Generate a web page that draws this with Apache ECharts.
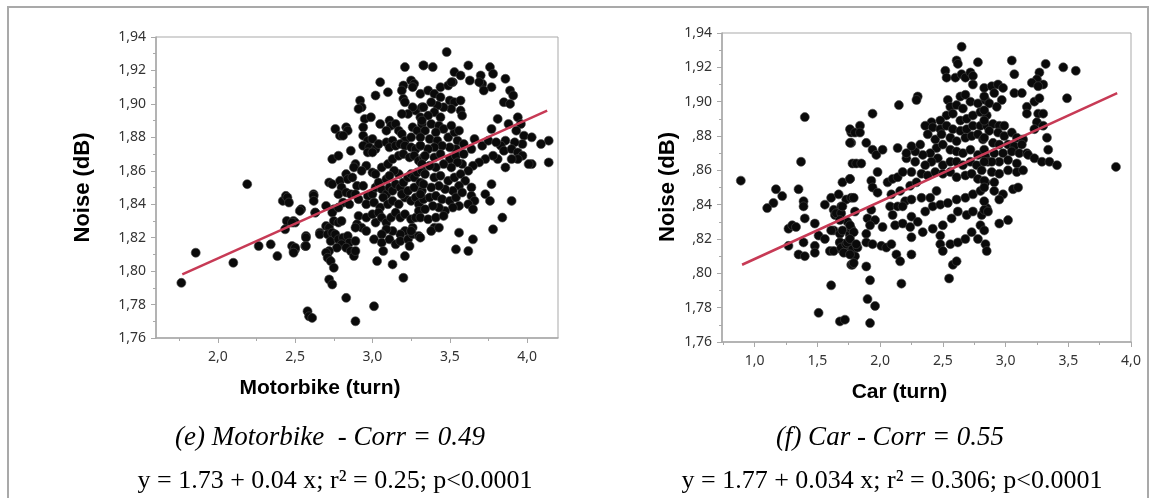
<!DOCTYPE html>
<html>
<head>
<meta charset="utf-8">
<script src="https://cdn.jsdelivr.net/npm/echarts@6/dist/echarts.min.js"></script>
<style>html,body{margin:0;padding:0;background:#fff}#c{width:1155px;height:498px}</style>
</head>
<body>
<div id="c"></div>
<script>
// ---------- DATA ----------
const motorbikeXTicks = [2.0, 2.5, 3.0, 3.5, 4.0];
const motorbikeXMinor = [1.75, 2.25, 2.75, 3.25, 3.75];
const carXTicks = [1.0, 1.5, 2.0, 2.5, 3.0, 3.5, 4.0];
const carXMinor = [0.75, 1.25, 1.75, 2.25, 2.75, 3.25, 3.75];

const motorbikePoints = [
[2.19,1.852],[1.857,1.811],[1.764,1.793],[2.10,1.805],[2.264,1.815],[2.342,1.816],[2.385,1.809],[2.42,1.842],[2.44,1.845],[2.446,1.830],[2.489,1.830],[2.435,1.825],[2.48,1.815],[2.50,1.813],[2.49,1.812],[2.539,1.837],[2.57,1.821],[2.565,1.815],[2.619,1.846],[2.63,1.835],[2.66,1.823],
[3.21,1.922],[3.33,1.923],[3.05,1.913],[3.10,1.907],[3.02,1.905],[3.20,1.911],[3.19,1.908],[3.25,1.914],[3.27,1.912],[3.26,1.910],[3.20,1.903],[3.21,1.901],[2.92,1.902],[2.93,1.898],[2.91,1.897],[2.95,1.891],[2.99,1.892],[2.76,1.885],[2.83,1.886],[2.84,1.884],[2.79,1.881],[2.81,1.881],[2.94,1.886],[3.05,1.888],[3.11,1.890],[3.12,1.887],[3.09,1.884],[3.15,1.888],[3.17,1.884],[3.19,1.882],[3.21,1.878],[3.25,1.880],[3.26,1.886],[3.29,1.884],[3.32,1.888],[3.28,1.896],[3.26,1.898],[3.32,1.898],[3.31,1.892],[3.23,1.894],[3.19,1.894],
[2.94,1.881],[2.97,1.878],[3.00,1.879],[2.94,1.875],[2.98,1.874],[3.02,1.873],[2.97,1.871],[3.00,1.871],[3.04,1.876],[3.09,1.877],[3.13,1.878],[3.11,1.874],[3.15,1.875],[3.18,1.876],[3.21,1.875],[3.25,1.874],[3.28,1.873],[3.31,1.875],[2.86,1.872],[2.74,1.867],[2.78,1.869],[2.89,1.864],[2.88,1.862],[2.96,1.863],[2.93,1.860],[3.00,1.859],[3.02,1.858],[3.06,1.862],[3.10,1.864],[3.13,1.867],[3.17,1.869],[3.20,1.870],[3.24,1.868],[3.27,1.869],[3.30,1.866],[3.33,1.868],
[2.72,1.853],[2.74,1.852],[2.79,1.854],[2.83,1.858],[2.80,1.850],[2.84,1.855],[2.87,1.856],[2.90,1.851],[2.94,1.851],[2.78,1.846],[2.83,1.847],[2.86,1.846],[2.89,1.846],[2.91,1.843],[2.97,1.845],[3.00,1.846],[3.02,1.850],[3.04,1.853],[3.06,1.849],[3.09,1.846],[3.11,1.850],[3.13,1.848],[3.15,1.852],[3.18,1.850],[3.20,1.853],[3.23,1.856],[3.25,1.858],[3.27,1.856],[3.29,1.859],[3.32,1.860],[3.17,1.858],[3.14,1.860],[3.09,1.855],[3.11,1.857],
[2.45,1.844],[2.46,1.841],[2.53,1.836],[2.62,1.845],[2.62,1.842],[2.70,1.839],[2.75,1.837],[2.74,1.835],[2.81,1.841],[2.85,1.840],[2.63,1.835],[2.78,1.838],[2.96,1.840],[3.01,1.841],[3.05,1.838],[3.07,1.844],[3.10,1.840],[3.13,1.842],[3.17,1.840],[3.21,1.844],[3.25,1.842],[3.28,1.844],[3.30,1.840],[3.33,1.843],[3.19,1.846],[3.23,1.848],[3.27,1.850],[3.31,1.853],[3.32,1.848],
[2.50,1.829],[2.48,1.829],[2.57,1.820],[2.50,1.814],[2.49,1.811],[2.57,1.815],[2.66,1.822],[2.70,1.827],[2.72,1.826],[2.75,1.830],[2.78,1.829],[2.80,1.830],[2.71,1.822],[2.74,1.823],[2.73,1.818],[2.76,1.822],[2.78,1.819],[2.81,1.820],[2.84,1.821],[2.85,1.817],[2.89,1.818],[2.80,1.816],[2.77,1.814],[2.83,1.814],[2.86,1.812],[2.88,1.809],[2.89,1.812],[2.72,1.812],[2.70,1.811],[2.71,1.808],[2.73,1.806],[2.75,1.802],
[2.91,1.833],[2.90,1.828],[2.93,1.826],[2.89,1.826],[2.96,1.824],[2.96,1.832],[3.00,1.834],[3.02,1.829],[3.04,1.835],[3.06,1.832],[3.09,1.829],[3.12,1.832],[3.15,1.835],[3.18,1.832],[3.21,1.834],[3.25,1.831],[3.28,1.832],[3.30,1.836],[3.26,1.826],[3.21,1.824],[3.18,1.822],[3.13,1.824],[3.09,1.825],[3.06,1.822],[3.01,1.819],[3.06,1.817],[3.11,1.819],[3.15,1.816],[3.18,1.818],[3.23,1.819],[3.26,1.822],[3.30,1.821],[3.07,1.812],[3.03,1.806],[3.13,1.804],[3.21,1.809],[3.20,1.796],[2.72,1.795],[2.74,1.792],[2.83,1.784],[3.01,1.779],[2.58,1.776],[2.59,1.773],[2.61,1.772],[2.89,1.770],[3.25,1.824],[3.24,1.815],
[3.48,1.931],[3.33,1.923],[3.39,1.922],[3.53,1.919],[3.57,1.917],[3.52,1.913],[3.63,1.914],[3.62,1.923],[3.70,1.917],[3.71,1.912],[3.69,1.913],[3.76,1.922],[3.78,1.918],[3.77,1.910],[3.72,1.908],[3.86,1.915],[3.89,1.908],[3.91,1.905],[3.85,1.901],[3.89,1.900],
[3.31,1.906],[3.36,1.908],[3.40,1.906],[3.44,1.910],[3.49,1.911],[3.51,1.913],[3.44,1.904],[3.50,1.902],[3.53,1.901],[3.57,1.902],[3.57,1.896],[3.58,1.893],[3.51,1.897],[3.46,1.898],[3.42,1.899],[3.38,1.901],[3.33,1.898],[3.40,1.895],[3.44,1.892],[3.36,1.893],[3.32,1.890],[3.38,1.888],[3.43,1.887],[3.46,1.885],[3.41,1.883],[3.34,1.884],[3.31,1.880],[3.37,1.879],[3.42,1.878],[3.49,1.880],[3.53,1.883],[3.56,1.884],[3.51,1.887],[3.55,1.878],[3.59,1.876],[3.54,1.873],[3.50,1.874],[3.45,1.875],[3.40,1.874],[3.36,1.873],[3.31,1.875],[3.34,1.869],[3.40,1.868],[3.44,1.870],[3.50,1.867],[3.54,1.869],[3.59,1.870],[3.64,1.873],[3.66,1.879],[3.71,1.875],[3.75,1.878],[3.77,1.885],[3.81,1.891],[3.88,1.888],[3.94,1.892],[3.96,1.888],[3.93,1.884],[3.98,1.881],[4.03,1.880],[3.97,1.876],[3.92,1.877],[3.86,1.878],[3.83,1.875],[3.80,1.877],[3.85,1.872],[3.90,1.873],[3.94,1.871],[3.97,1.869],[4.03,1.864],[4.01,1.864],[4.14,1.878],[4.09,1.876],[4.14,1.865],[3.94,1.867],[3.90,1.867],[3.86,1.862],[3.81,1.867],[3.78,1.869],[3.73,1.867],[3.69,1.865],[3.65,1.863],[3.62,1.860],[3.58,1.864],[3.55,1.865],[3.51,1.862],[3.46,1.864],[3.41,1.862],[3.37,1.863],[3.32,1.864],[3.34,1.858],[3.40,1.856],[3.44,1.857],[3.49,1.854],[3.53,1.856],[3.57,1.858],[3.60,1.854],[3.64,1.850],[3.56,1.851],[3.52,1.848],[3.47,1.849],[3.43,1.851],[3.38,1.850],[3.33,1.852],[3.31,1.846],[3.37,1.844],[3.41,1.845],[3.45,1.843],[3.50,1.842],[3.54,1.844],[3.58,1.847],[3.64,1.845],[3.66,1.842],[3.62,1.840],[3.56,1.839],[3.52,1.838],[3.47,1.836],[3.43,1.838],[3.39,1.839],[3.34,1.837],[3.31,1.832],[3.36,1.831],[3.41,1.832],[3.46,1.833],[3.40,1.826],[3.38,1.824],[3.43,1.826],[3.31,1.820],[3.77,1.852],[3.73,1.846],[3.76,1.842],[3.65,1.837],[3.90,1.842],[3.84,1.832],[3.78,1.825],[3.56,1.823],[3.54,1.813],[3.62,1.812],[3.65,1.819]
];

const carPoints = [
[0.89,1.854],[1.40,1.891],[1.37,1.865],[1.17,1.849],[1.22,1.845],[1.15,1.841],[1.10,1.838],[1.35,1.849],[1.39,1.842],[1.39,1.839],[1.40,1.832],[1.27,1.826],[1.30,1.828],[1.33,1.827],[1.27,1.816],[1.35,1.811],[1.40,1.810],[1.39,1.818],[1.48,1.829],[1.51,1.822],[1.48,1.816],[1.48,1.812],[1.56,1.820],[1.56,1.840],[1.61,1.844],[1.67,1.846],[1.63,1.837],[1.64,1.834],[1.69,1.839],[1.70,1.853],[1.76,1.855],[1.73,1.843],[1.77,1.844],[1.63,1.825],[1.68,1.823],[1.74,1.830],[1.76,1.822],[1.68,1.818],[1.69,1.814],[1.73,1.816],[1.60,1.813],[1.63,1.813],[1.77,1.811],[1.77,1.805],[1.61,1.793],[1.51,1.777],[1.68,1.772],[1.72,1.773],[1.77,1.882],[1.77,1.876],[1.78,1.864],[1.80,1.836],[1.80,1.816],
[1.65,1.835],[1.61,1.825],[1.69,1.835],[1.70,1.839],[1.68,1.831],[1.70,1.825],[1.68,1.818],[1.69,1.815],[1.71,1.812],[1.73,1.817],[1.76,1.823],[1.77,1.826],[1.74,1.818],[1.78,1.814],[1.80,1.810],[1.82,1.815],[1.78,1.805],
[2.65,1.932],[2.61,1.924],[2.62,1.922],[2.78,1.923],[2.52,1.918],[2.53,1.914],[2.60,1.914],[2.65,1.916],[2.68,1.914],[2.72,1.917],[2.74,1.915],[2.74,1.910],[2.30,1.903],[2.29,1.901],[2.15,1.898],[1.94,1.893],
[2.54,1.901],[2.64,1.903],[2.68,1.904],[2.56,1.897],[2.61,1.898],[2.66,1.896],[2.72,1.900],[2.78,1.899],[2.84,1.901],[2.53,1.892],[2.58,1.893],[2.64,1.889],[2.69,1.890],[2.74,1.892],[2.80,1.894],[2.85,1.892],[2.48,1.889],[2.41,1.888],[2.36,1.886],[2.42,1.885],[2.48,1.884],[2.53,1.886],[2.58,1.884],[2.64,1.883],[2.69,1.884],[2.74,1.886],[2.80,1.886],[2.85,1.886],[2.38,1.881],[2.44,1.878],[2.49,1.881],[2.56,1.879],[2.61,1.877],[2.68,1.879],[2.73,1.880],[2.78,1.881],[2.82,1.878],[2.45,1.873],[2.40,1.870],[2.34,1.869],[2.28,1.871],[2.25,1.874],[2.32,1.875],[2.50,1.875],[2.56,1.872],[2.61,1.871],[2.66,1.870],[2.72,1.872],[2.78,1.869],[2.84,1.868],[2.46,1.867],[2.41,1.865],[2.36,1.863],[2.50,1.863],[2.56,1.865],[2.61,1.865],[2.66,1.863],[2.72,1.865],[2.77,1.863],[2.81,1.860],[2.86,1.865],[2.28,1.865],[2.21,1.867],[2.25,1.859],[2.33,1.858],[2.38,1.857],[2.44,1.859],[2.50,1.858],[2.56,1.859],[2.61,1.856],[2.68,1.857],[2.73,1.858],[2.78,1.855],[2.84,1.853],
[1.76,1.884],[1.80,1.882],[1.84,1.886],[1.84,1.882],[1.76,1.876],[1.89,1.876],[1.94,1.872],[1.97,1.869],[2.02,1.872],[2.14,1.873],[2.21,1.870],[1.81,1.864],[1.85,1.864],[1.76,1.855],[1.79,1.844],[1.98,1.859],[1.93,1.854],[1.94,1.850],[1.98,1.847],[2.06,1.853],[2.10,1.855],[2.14,1.856],[2.18,1.859],[2.24,1.851],[2.29,1.853],[2.16,1.848],[2.09,1.846],[2.20,1.842],[2.25,1.843],[2.33,1.844],[2.40,1.844],[2.45,1.848],[2.08,1.839],[2.10,1.834],[2.14,1.839],[2.18,1.839],[1.93,1.837],[1.90,1.832],[1.96,1.831],[1.92,1.828],[2.02,1.827],[2.12,1.828],[2.18,1.829],[2.25,1.833],[2.30,1.830],[2.36,1.836],[2.42,1.839],[2.48,1.840],[2.54,1.841],[2.61,1.843],[2.68,1.844],[2.74,1.846],[2.80,1.848],[1.76,1.828],[1.79,1.824],[1.76,1.820],[1.81,1.817],[1.76,1.811],[1.79,1.806],[1.89,1.823],[1.89,1.818],[1.94,1.817],[2.01,1.816],[2.05,1.815],[2.09,1.817],[2.13,1.811],[2.16,1.807],[2.25,1.821],[2.24,1.827],[2.34,1.824],[2.42,1.826],[2.48,1.822],[2.50,1.828],[2.57,1.832],[2.62,1.836],[2.69,1.834],[2.74,1.836],[2.81,1.834],[2.85,1.838],[2.48,1.817],[2.50,1.813],[2.56,1.817],[2.62,1.818],[2.68,1.820],[2.73,1.824],[2.78,1.820],[2.84,1.817],[2.80,1.828],[2.25,1.811],[1.89,1.804],[1.92,1.796],[1.90,1.785],[1.96,1.781],[1.92,1.771],[2.17,1.794],[2.55,1.797],[2.58,1.805],[2.61,1.807],
[3.05,1.924],[3.32,1.922],[3.46,1.920],[3.56,1.918],[3.07,1.916],[3.27,1.917],[3.25,1.913],[3.30,1.910],[3.21,1.911],[3.26,1.909],[3.49,1.902],[3.88,1.862],
[2.83,1.908],[2.89,1.909],[2.94,1.910],[2.98,1.908],[2.91,1.905],[2.83,1.903],[2.97,1.901],[2.87,1.899],[2.93,1.897],[2.83,1.895],[3.07,1.905],[3.13,1.905],[3.17,1.897],[3.17,1.893],[3.23,1.900],[3.27,1.902],[3.26,1.893],[3.30,1.893],[3.25,1.888],[3.30,1.886],[3.23,1.884],[2.83,1.889],[2.90,1.887],[2.95,1.886],[2.99,1.886],[2.87,1.883],[2.94,1.882],[2.83,1.879],[2.99,1.880],[3.05,1.882],[3.09,1.879],[3.14,1.878],[2.90,1.876],[2.95,1.875],[3.02,1.875],[3.07,1.874],[3.13,1.875],[2.83,1.872],[2.91,1.870],[2.98,1.870],[3.05,1.871],[3.11,1.870],[3.17,1.870],[3.18,1.869],[3.23,1.867],[3.29,1.865],[3.35,1.865],[3.41,1.863],[3.34,1.872],[3.33,1.879],[2.95,1.865],[2.89,1.865],[3.02,1.866],[3.09,1.864],[2.83,1.865],[2.89,1.859],[2.95,1.858],[3.02,1.860],[3.09,1.859],[3.14,1.860],[2.83,1.854],[2.91,1.853],[2.83,1.850],[2.91,1.848],[2.98,1.846],[2.95,1.843],[3.06,1.849],[3.10,1.850],[2.83,1.842],[2.83,1.837],[2.86,1.836],[2.95,1.829],[3.02,1.831],[2.83,1.825],[2.85,1.813]
];

// fitted regression lines (end points)
const motorbikeFit = [[1.77, 1.798], [4.13, 1.896]];
const carFit = [[0.90, 1.805], [3.89, 1.905]];

const captions = [
  '(e) Motorbike  - Corr = 0.49',
  'y = 1.73 + 0.04 x; r\u00B2 = 0.25; p<0.0001',
  '(f) Car - Corr = 0.55',
  'y = 1.77 + 0.034 x; r\u00B2 = 0.306; p<0.0001'
];

// ---------- CHART ----------
const gray = '#a9a9a9';
const labelColor = '#333';
const titleStyle = { fontFamily: 'Liberation Sans', fontWeight: 'bold', fontSize: 21, color: '#000' };

function yAxis(gridIndex, name, nameGap) {
  return {
    gridIndex, type: 'value', min: 1.76, max: 1.94, interval: 0.02,
    axisLine: { show: true, lineStyle: { color: gray, width: 1.5 } },
    axisTick: { show: true, length: 5, lineStyle: { color: gray } },
    minorTick: { show: true, splitNumber: 2, length: 3, lineStyle: { color: gray } },
    splitLine: { show: false },
    axisLabel: { formatter: v => v.toFixed(2).replace('.', ','), color: labelColor, fontSize: 14, fontFamily: 'Noto Sans', margin: 10 },
    name, nameLocation: 'middle', nameGap, nameMoveOverlap: false,
    nameTextStyle: Object.assign({}, titleStyle, { fontSize: 22 })
  };
}
function xMain(gridIndex, min, max, ticks, name, shift) {
  return {
    gridIndex, type: 'value', min, max, position: 'bottom',
    axisLine: { show: true, onZero: false, lineStyle: { color: gray, width: 1.5 } },
    axisTick: { show: true, length: 5, customValues: ticks, lineStyle: { color: gray } },
    axisLabel: { customValues: ticks, formatter: v => v.toFixed(1).replace('.', ','), color: labelColor, fontSize: 14, fontFamily: 'Noto Sans', margin: 12 },
    splitLine: { show: false },
    name, nameLocation: 'middle', nameGap: 40, nameMoveOverlap: false,
    nameTextStyle: Object.assign({}, titleStyle, { padding: [0, shift, 0, 0] })
  };
}
function xMinor(gridIndex, min, max, ticks) {
  return {
    gridIndex, type: 'value', min, max, position: 'bottom', offset: 0,
    axisLine: { show: false, onZero: false },
    axisTick: { show: true, length: 3, customValues: ticks, lineStyle: { color: gray } },
    axisLabel: { show: false },
    splitLine: { show: false }
  };
}
const dotStyle = { color: '#0a0a0a', borderColor: '#444', borderWidth: 0.6, opacity: 1 };
const fitStyle = { color: '#c73a55', width: 2.5 };

const captionFont = (italic) => ({ fontFamily: 'Liberation Serif', fontStyle: italic ? 'italic' : 'normal', fontSize: italic ? 27 : 26, fill: '#000', align: 'center', verticalAlign: 'middle' });

const option = {
  animation: false,
  backgroundColor: '#fff',
  grid: [
    { left: 156, top: 37, width: 402, height: 301, show: true, borderColor: gray, borderWidth: 1 },
    { left: 722, top: 33, width: 409, height: 309, show: true, borderColor: gray, borderWidth: 1 }
  ],
  xAxis: [
    xMain(0, 1.6, 4.2, motorbikeXTicks, 'Motorbike (turn)', 74),
    xMinor(0, 1.6, 4.2, motorbikeXMinor),
    xMain(1, 0.74, 4.0, carXTicks, 'Car (turn)', 54),
    xMinor(1, 0.74, 4.0, carXMinor)
  ],
  yAxis: [
    yAxis(0, 'Noise (dB)', 62),
    yAxis(1, '', 40)
  ],
  series: [
    { type: 'scatter', xAxisIndex: 0, yAxisIndex: 0, data: motorbikePoints, symbolSize: 9, itemStyle: dotStyle, z: 2 },
    { type: 'line', xAxisIndex: 0, yAxisIndex: 0, data: motorbikeFit, symbol: 'none', lineStyle: fitStyle, z: 3, silent: true },
    { type: 'scatter', xAxisIndex: 2, yAxisIndex: 1, data: carPoints, symbolSize: 9, itemStyle: dotStyle, z: 2 },
    { type: 'line', xAxisIndex: 2, yAxisIndex: 1, data: carFit, symbol: 'none', lineStyle: fitStyle, z: 3, silent: true }
  ],
  graphic: [
    { type: 'rect', z: 100, shape: { x: 8, y: 7, width: 1140, height: 600 }, style: { fill: 'none', stroke: '#a9a9a9', lineWidth: 2 }, silent: true },
    // white panel behind the right y-axis title (it hides the leading "1" of some tick labels, as in the original)
    { type: 'rect', z: 100, shape: { x: 652, y: 122, width: 39, height: 160 }, style: { fill: '#fff' }, silent: true },
    { type: 'text', z: 101, x: 668, y: 187, rotation: Math.PI / 2,
      style: { text: 'Noise (dB)', fontFamily: 'Liberation Sans', fontWeight: 'bold', fontSize: 22, fill: '#000', align: 'center', verticalAlign: 'middle' } },
    { type: 'text', x: 330, y: 438, style: Object.assign({ text: captions[0] }, captionFont(true)) },
    { type: 'text', x: 335, y: 481, style: Object.assign({ text: captions[1] }, captionFont(false)) },
    { type: 'text', x: 890, y: 438, style: Object.assign({ text: captions[2] }, captionFont(true)) },
    { type: 'text', x: 892, y: 481, style: Object.assign({ text: captions[3] }, captionFont(false)) }
  ]
};
const chart = echarts.init(document.getElementById('c'), null, { renderer: 'canvas' });
chart.setOption(option);
</script>
</body>
</html>
